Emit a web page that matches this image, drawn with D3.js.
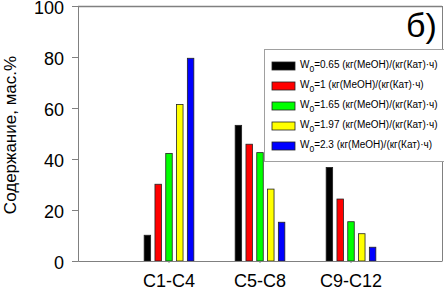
<!DOCTYPE html>
<html><head><meta charset="utf-8">
<script src="https://cdn.jsdelivr.net/npm/d3@7"></script>
<style>html,body{margin:0;padding:0;background:#fff}svg{display:block;font-family:Arial,"Liberation Sans",sans-serif}</style>
</head><body><svg id="c" width="444" height="290"></svg>
<script>
const categories = ["C1-C4", "C5-C8", "C9-C12"];
const seriesNames = ["0.65", "1", "1.65", "1.97", "2.3"];
const seriesColors = ["#000000", "#ff0000", "#00ff00", "#ffff00", "#0000ff"];
const values = [
  [10.1, 53.2, 36.7],
  [30.1, 45.8, 24.3],
  [42.2, 42.5, 15.4],
  [61.4, 28.2, 10.7],
  [79.5, 15.2, 5.4]
];
const yTicks = [0, 20, 40, 60, 80, 100];
const unitText = " (кг(MeOH)/(кг(Кат)·ч)";

const svg = d3.select("#c");
const L = 78, R = 442, T = 6, B = 261;
const y = d3.scaleLinear().domain([0, 100]).range([B, T]);
const x0 = d3.scaleBand().domain(categories).range([L, R]).paddingInner(0).paddingOuter(0.5);
const x1 = d3.scaleBand().domain(seriesNames).range([-27, 27]).paddingInner(0.4).paddingOuter(0.2);

// frame top/right
svg.append("line").attr("x1", L).attr("x2", R).attr("y1", T + 0.5).attr("y2", T + 0.5).attr("stroke", "#808080").attr("stroke-width", 1.5);
svg.append("line").attr("x1", R + 0.5).attr("x2", R + 0.5).attr("y1", T).attr("y2", B).attr("stroke", "#808080");

// bars
seriesNames.forEach((s, i) => {
  svg.append("g").selectAll("rect").data(categories).join("rect")
    .attr("x", c => x0(c) + x0.bandwidth() / 2 + x1(s))
    .attr("width", x1.bandwidth())
    .attr("y", (c, j) => y(values[i][j]))
    .attr("height", (c, j) => B - y(values[i][j]))
    .attr("fill", seriesColors[i])
    .attr("stroke", "#222").attr("stroke-width", 0.8);
});

// y axis
const yAxis = svg.append("g").attr("transform", `translate(${L},0)`)
  .call(d3.axisLeft(y).tickValues(yTicks).tickSize(6).tickPadding(8));
yAxis.select(".domain").attr("stroke", "#808080");
yAxis.selectAll(".tick line").attr("stroke", "#808080");
yAxis.selectAll(".tick text").attr("font-size", 18).attr("y", 2).attr("fill", "#000").attr("font-family", "Arial, 'Liberation Sans', sans-serif");

// x axis
const xAxis = svg.append("g").attr("transform", `translate(0,${B})`)
  .call(d3.axisBottom(x0).tickSize(2).tickPadding(11).tickSizeOuter(0));
xAxis.select(".domain").attr("stroke", "#808080");
xAxis.selectAll(".tick line").attr("stroke", "#808080");
xAxis.selectAll(".tick text").attr("font-size", 18).attr("fill", "#000").attr("font-family", "Arial, 'Liberation Sans', sans-serif");

// y title
svg.append("text").attr("transform", "translate(16,135) rotate(-90)")
  .attr("text-anchor", "middle").attr("font-size", 17).text("Содержание, мас.%");

// panel label
svg.append("text").attr("x", 406).attr("y", 37).attr("font-size", 34).text("б)");

// legend
const lg = svg.append("g");
lg.append("rect").attr("x", 264.5).attr("y", 49.5).attr("width", 185).attr("height", 112)
  .attr("fill", "#fff").attr("stroke", "#a0a0a0");
seriesNames.forEach((s, i) => {
  const cy = 66 + i * 20;
  lg.append("rect").attr("x", 272).attr("y", cy - 4).attr("width", 23).attr("height", 8)
    .attr("fill", seriesColors[i]).attr("stroke", "#222").attr("stroke-width", 0.8);
  const t = lg.append("text").attr("x", 300).attr("y", cy + 2).attr("font-size", 10);
  t.append("tspan").text("W");
  t.append("tspan").attr("font-size", 8.5).attr("dy", 4).text("0");
  t.append("tspan").attr("dy", -4).text("=" + s + unitText);
});
</script></body></html>
